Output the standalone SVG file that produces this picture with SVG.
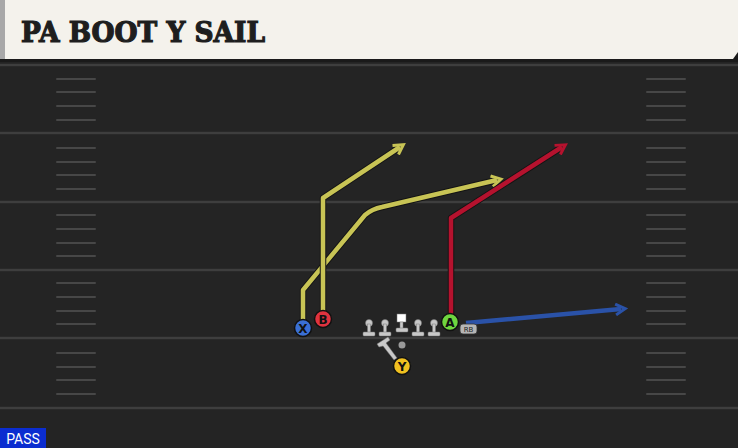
<svg xmlns="http://www.w3.org/2000/svg" width="738" height="448" viewBox="0 0 738 448">
<defs>
<style>
.yl{stroke:#eeeeee;stroke-opacity:0.13;stroke-width:2.5;fill:none}
.hm{stroke:#474747;stroke-width:2;stroke-linecap:round;fill:none}
.ro{fill:none;stroke-width:6.5;stroke:#141414;stroke-linejoin:round;stroke-linecap:butt}
.ri{fill:none;stroke-width:4.5;stroke-linejoin:round;stroke-linecap:butt}
.pl{stroke:#111;stroke-width:1.5}
.lt{font-family:"DejaVu Sans","Liberation Sans",sans-serif;font-weight:bold;font-size:12px;fill:#111;text-anchor:middle}
.ol{fill:#c8c8c8;stroke:#777;stroke-width:0.5}
</style>
<marker id="ay" viewBox="0 0 10 10" refX="5" refY="5" markerWidth="3" markerHeight="3" orient="auto" markerUnits="strokeWidth"><path d="M1,1 L8,5 L1,9" fill="none" stroke="#c8c455" stroke-width="2.2"/></marker>
<marker id="ar" viewBox="0 0 10 10" refX="5" refY="5" markerWidth="3" markerHeight="3" orient="auto" markerUnits="strokeWidth"><path d="M1,1 L8,5 L1,9" fill="none" stroke="#b5122e" stroke-width="2.2"/></marker>
<marker id="ab" viewBox="0 0 10 10" refX="5" refY="5" markerWidth="3" markerHeight="3" orient="auto" markerUnits="strokeWidth"><path d="M1,1 L8,5 L1,9" fill="none" stroke="#2a52a8" stroke-width="2.2"/></marker>
</defs>
<rect width="738" height="448" fill="#242424"/>
<g id="header">
<rect x="0" y="0" width="738" height="62" fill="#1a1a1a"/>
<path d="M0,0 H738 V52 L733,59 H0 Z" fill="#f4f2ec"/>
<rect x="0" y="0" width="5" height="59" fill="#a8a8a8"/>
<text x="21" y="42" font-family="'DejaVu Serif','Liberation Serif',serif" font-weight="bold" font-size="27" fill="#1e1e1e" stroke="#1e1e1e" stroke-width="1.2" textLength="244" lengthAdjust="spacingAndGlyphs">PA BOOT Y SAIL</text>
</g>
<g id="field">
<line class="yl" x1="0" y1="65" x2="738" y2="65"/>
<line class="yl" x1="0" y1="133" x2="738" y2="133"/>
<line class="yl" x1="0" y1="202" x2="738" y2="202"/>
<line class="yl" x1="0" y1="270" x2="738" y2="270"/>
<line class="yl" x1="0" y1="338" x2="738" y2="338"/>
<line class="yl" x1="0" y1="408" x2="738" y2="408"/>
<path class="hm" d="M57,79H95M57,92H95M57,106H95M57,120H95M57,148H95M57,162H95M57,175H95M57,189H95M57,256H95M57,283H95M57,297H95M57,311H95M57,324H95M57,353H95M57,367H95M57,380H95M57,394H95M57,243H95M57,229H95M57,215H95"/>
<path class="hm" d="M647,79H685M647,92H685M647,106H685M647,120H685M647,148H685M647,162H685M647,175H685M647,189H685M647,256H685M647,283H685M647,297H685M647,311H685M647,324H685M647,353H685M647,367H685M647,380H685M647,394H685M647,243H685M647,229H685M647,215H685"/>
</g>
<g id="connectors">
<path class="ro" d="M303,328 V290 L365,215 Q372,209 382,207 L497,180"/>
<path class="ri" stroke="#c8c455" d="M303,328 V290 L365,215 Q372,209 382,207 L497,180" marker-end="url(#ay)"/>
<path class="ro" d="M323,319 V198 L400,147"/>
<path class="ri" stroke="#c8c455" d="M323,319 V198 L400,147" marker-end="url(#ay)"/>
<path class="ro" d="M451,322 V218 L562,147"/>
<path class="ri" stroke="#b5122e" d="M451,322 V218 L562,147" marker-end="url(#ar)"/>
<path class="ri" stroke="#2a52a8" d="M466,323 L621,309" marker-end="url(#ab)"/>
</g>
<g id="line">
<g class="ol"><circle cx="369" cy="323" r="3.5"/><rect x="367.5" y="324" width="3" height="9"/><rect x="363" y="332" width="12" height="4" rx="1"/></g>
<g class="ol"><circle cx="385" cy="323" r="3.5"/><rect x="383.5" y="324" width="3" height="9"/><rect x="379" y="332" width="12" height="4" rx="1"/></g>
<g class="ol"><rect x="397" y="314" width="9" height="8" fill="#fff"/><rect x="400" y="322" width="3" height="7"/><rect x="396" y="328" width="12" height="4" rx="1"/></g>
<g class="ol"><circle cx="418" cy="323" r="3.5"/><rect x="416.5" y="324" width="3" height="9"/><rect x="412" y="332" width="12" height="4" rx="1"/></g>
<g class="ol"><circle cx="434" cy="323" r="3.5"/><rect x="432.5" y="324" width="3" height="9"/><rect x="428" y="332" width="12" height="4" rx="1"/></g>
<g class="ol"><path d="M377,344 L388,337 L390,340 L386,343 L397,358 L394,360 L383,346 L379,347 Z"/></g>
<circle cx="402" cy="345" r="3.5" fill="#9a9a9a"/>
</g>
<g id="X"><circle class="pl" cx="303" cy="328" r="8.5" fill="#3a6fd4"/><text class="lt" x="303" y="332.5">X</text></g>
<g id="B"><circle class="pl" cx="323" cy="319" r="8.5" fill="#e0333f"/><text class="lt" x="323" y="323.5">B</text></g>
<g id="A"><circle class="pl" cx="450" cy="322" r="8.5" fill="#6fd63f"/><text class="lt" x="450" y="326.5">A</text></g>
<g id="RB"><rect x="460" y="324" width="17" height="10" rx="3" fill="#b5b5b5" stroke="#333" stroke-width="0.8"/><text x="468.5" y="331.5" font-family="'DejaVu Sans','Liberation Sans',sans-serif" font-size="7" fill="#222" text-anchor="middle">RB</text></g>
<g id="Y"><circle class="pl" cx="402" cy="366" r="8.5" fill="#f0c020"/><text class="lt" x="402" y="370.5">Y</text></g>
<g id="pass"><rect x="0" y="428" width="46" height="20" fill="#0b2dd0"/><text x="23" y="444" font-family="'Roboto','Liberation Sans',sans-serif" font-size="14" fill="#fff" text-anchor="middle">PASS</text></g>
</svg>
